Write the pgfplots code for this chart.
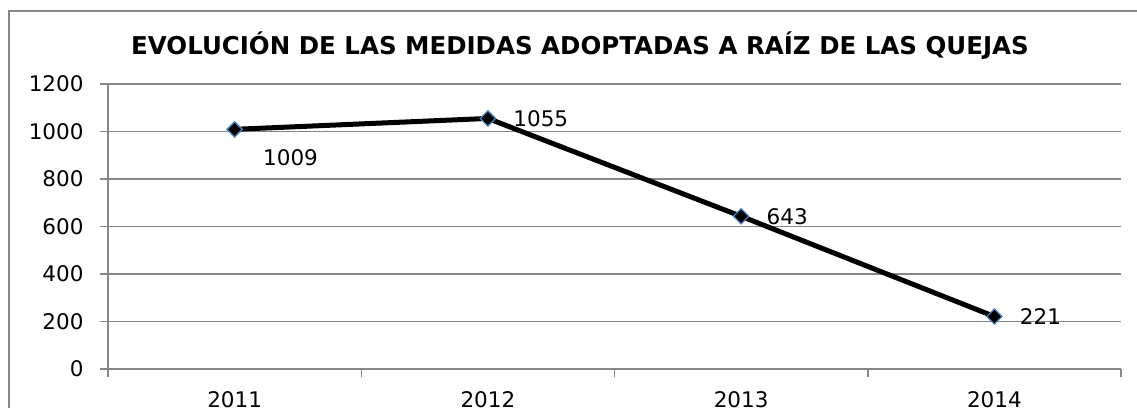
\documentclass[border=0pt]{standalone}
\usepackage{pgfplots}
\pgfplotsset{compat=1.18}
\usepackage{fontspec}
\setmainfont{DejaVu Sans}
\definecolor{gridgray}{RGB}{134,134,134}
\definecolor{markblue}{RGB}{79,129,189}
\begin{document}
\begin{tikzpicture}[x=1pt,y=1pt]
\useasboundingbox (0,0) rectangle (1137,407);
\clip (0,0) rectangle (1137,407);
\draw[gridgray,line width=1.5pt] (9,-20) -- (9,396) -- (1150,396);
\node[font=\fontsize{24.5}{28}\selectfont\bfseries, anchor=base] at (580,352) {EVOLUCIÓN DE LAS MEDIDAS ADOPTADAS A RAÍZ DE LAS QUEJAS};
\begin{axis}[
    at={(108pt,38pt)}, anchor=south west,
    scale only axis,
    width=1013pt, height=285pt,
    xmin=-0.5, xmax=3.5,
    ymin=0, ymax=1200,
    ytick={0,200,400,600,800,1000,1200},
    xtick={0,1,2,3},
    xticklabels={2011,2012,2013,2014},
    minor xtick={-0.5,0.5,1.5,2.5,3.5},
    major x tick style={draw=none},
    minor x tick style={gridgray,line width=1.5pt},
    x tick label style={yshift=-11pt},
    axis x line*=bottom,
    axis y line*=left,
    axis line style={gridgray,line width=1.5pt,-},
    ymajorgrids=true,
    grid style={gridgray,line width=1.5pt},
    y tick style={gridgray,line width=1.5pt},
    tick align=outside,
    major tick length=8pt,
    minor tick length=8pt,
    tick label style={font=\fontsize{21.5}{24}\selectfont},
    yticklabel style={xshift=-13pt},
    /pgf/number format/assume math mode=true,
    /pgf/number format/1000 sep={},
    clip=false,
]
\addplot[black, line width=5pt, mark=square*,
    mark size=5.4pt,
    mark options={fill=black, draw=markblue, line width=1.3pt, rotate=45}]
    coordinates {(0,1009) (1,1055) (2,643) (3,221)};
% data labels
\addplot[draw=none, nodes near coords, point meta=explicit symbolic,
    every node near coord/.append style={anchor=west, font=\fontsize{21.5}{24}\selectfont, xshift=22pt, yshift=0pt}]
    coordinates {(1,1055) [1055] (2,643) [643] (3,221) [221]};
\addplot[draw=none, nodes near coords, point meta=explicit symbolic,
    every node near coord/.append style={anchor=west, font=\fontsize{21.5}{24}\selectfont, xshift=25pt, yshift=-28pt}]
    coordinates {(0,1009) [1009]};
\end{axis}
\end{tikzpicture}
\end{document}
